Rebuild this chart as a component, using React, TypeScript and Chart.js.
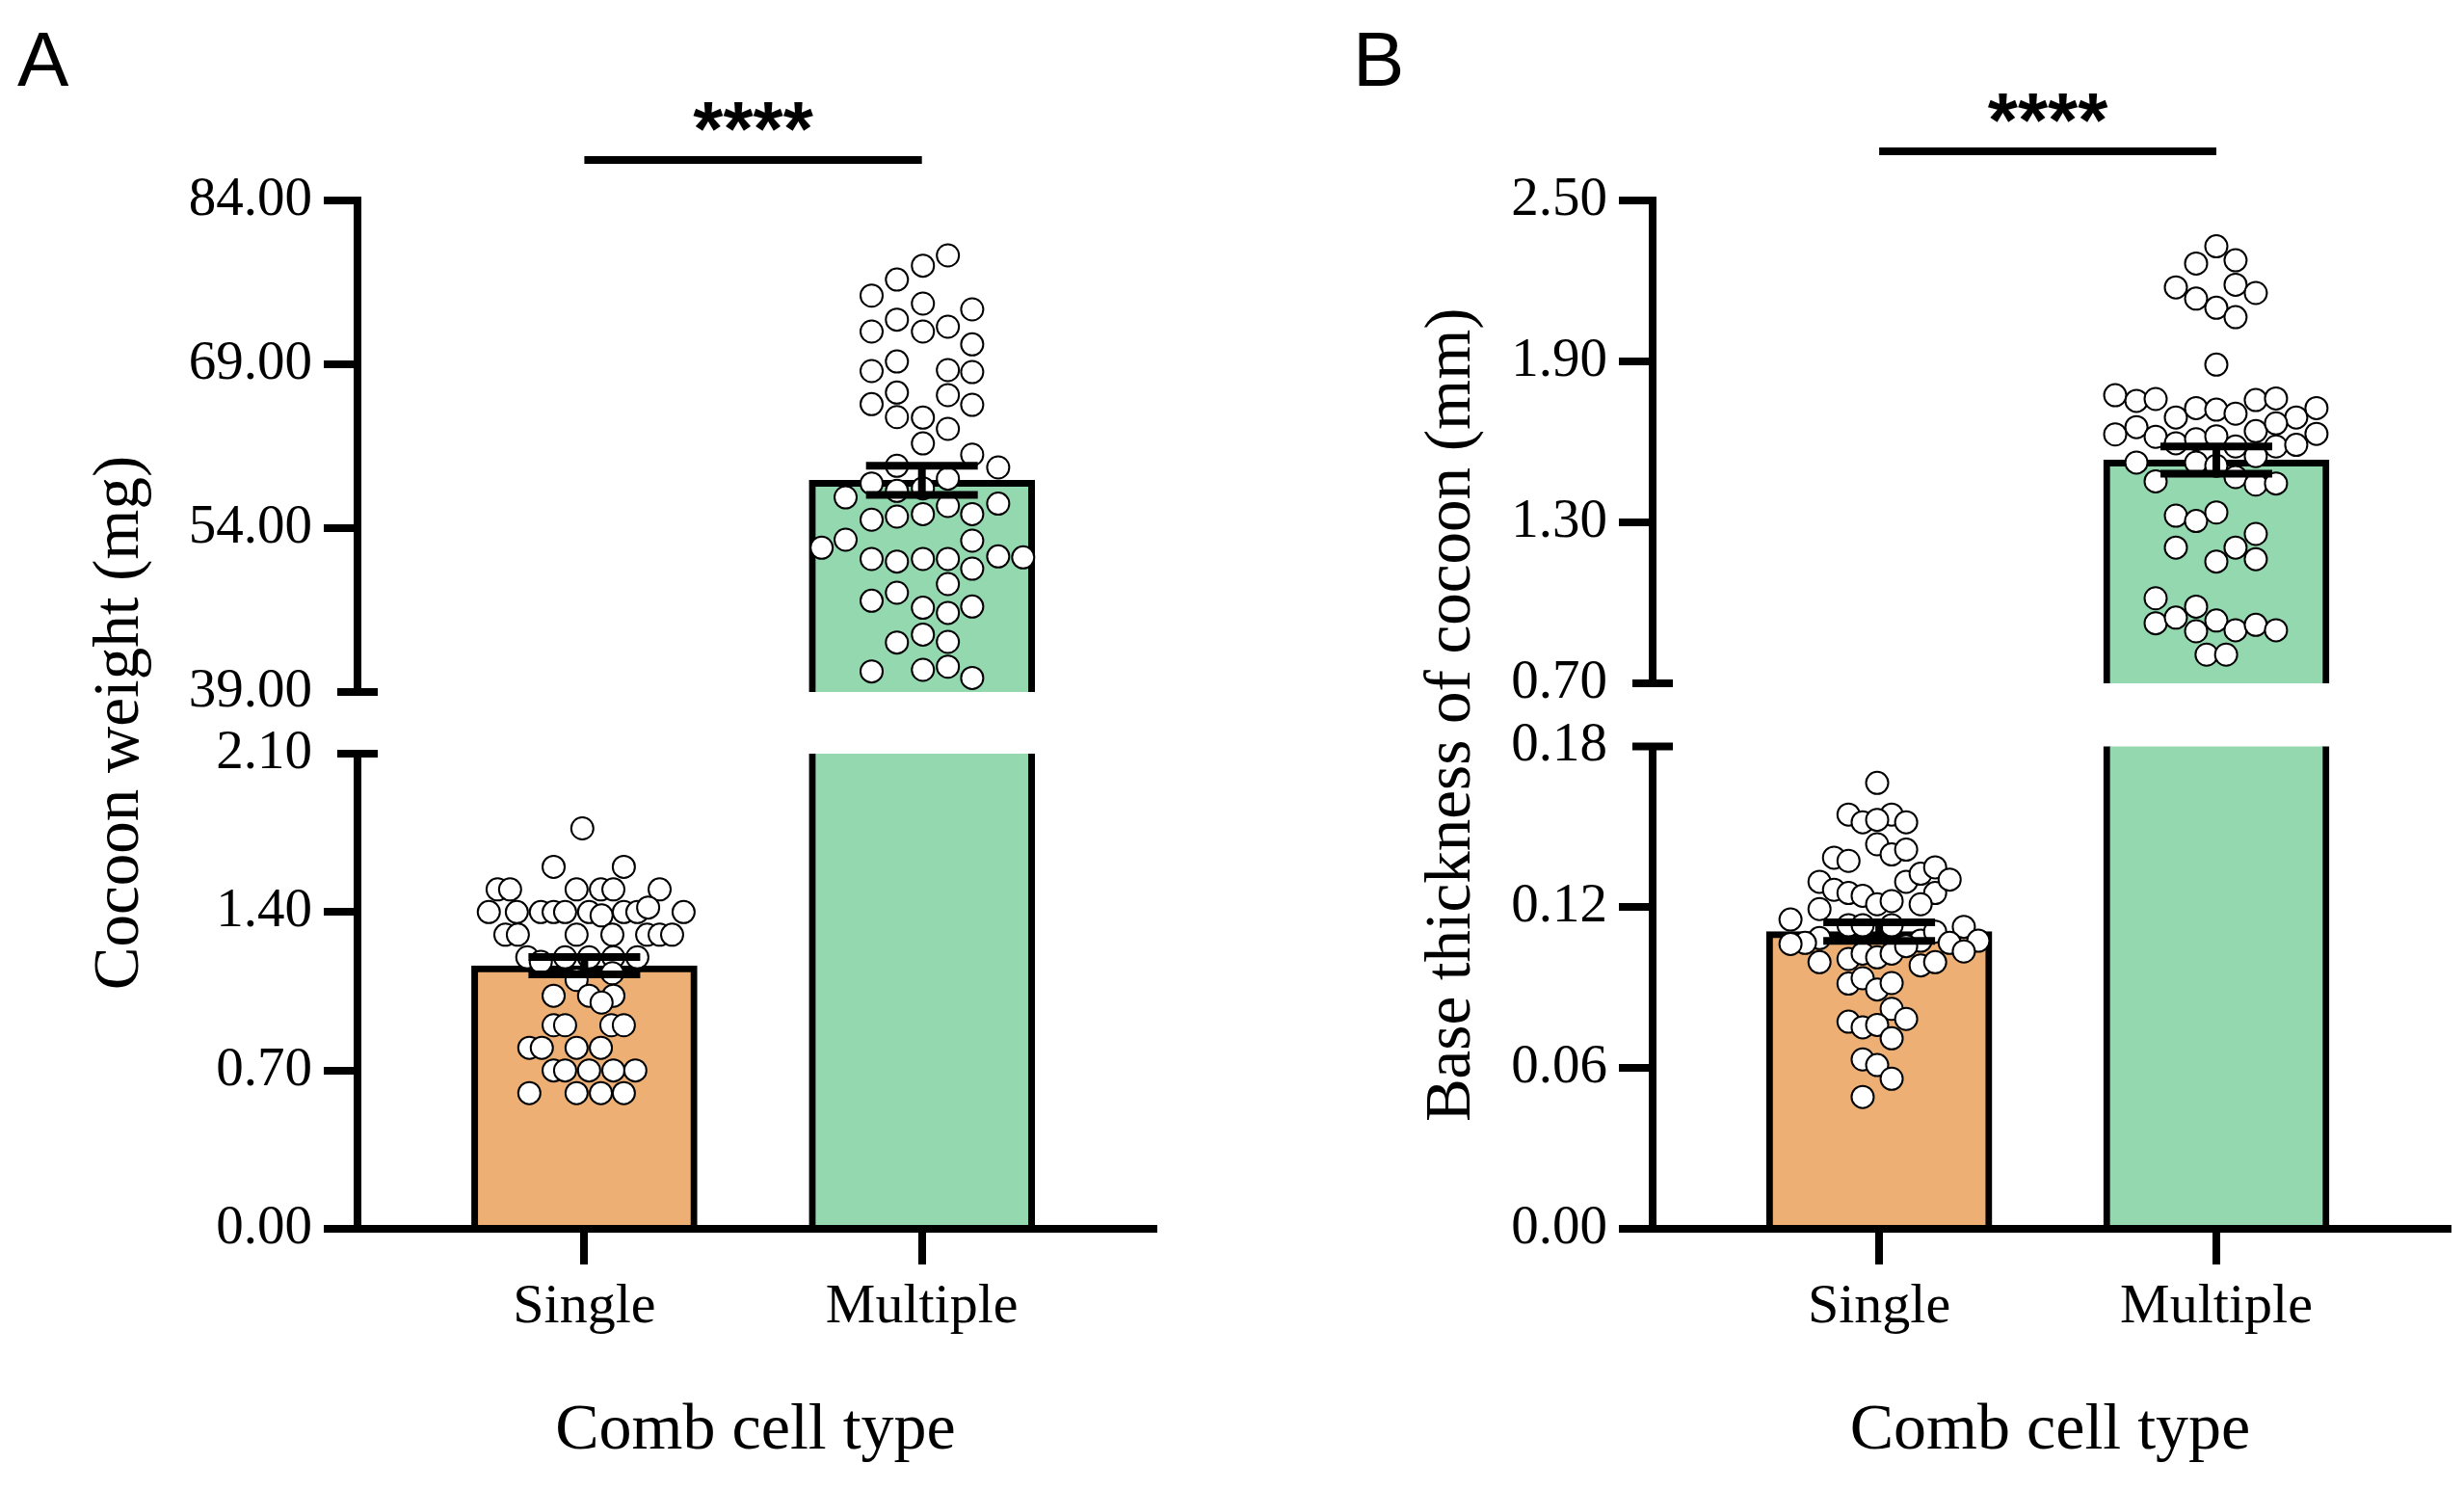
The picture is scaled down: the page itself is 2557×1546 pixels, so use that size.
import React, { useEffect, useRef } from 'react';
import { Chart, registerables } from 'chart.js';

Chart.register(...registerables);

const SERIF = '"Liberation Serif", "Times New Roman", serif';
const SANS = '"Liberation Sans", Arial, sans-serif';

// ---------------- DATA ----------------
const categories = ['Single', 'Multiple'];

// Panel A: cocoon weight (mg)
const weightMean = [1.163, 58.38];
const weightSem = [0.038, 1.33];
const weightLowTicks = [0, 0.7, 1.4, 2.1];
const weightHighTicks = [39, 54, 69, 84];
const weightSig = 87.7;

// [jitter (category units), value]
const weightSinglePts = [
  [-0.006, 1.77],
  [-0.091, 1.6], [0.117, 1.6],
  [-0.257, 1.5], [-0.22, 1.5], [-0.023, 1.5], [0.049, 1.5], [0.086, 1.5], [0.223, 1.5],
  [-0.283, 1.4], [-0.2, 1.4], [-0.129, 1.4], [-0.091, 1.4], [-0.057, 1.4], [0.014, 1.4], [0.051, 1.385], [0.117, 1.4], [0.157, 1.4], [0.189, 1.42], [0.294, 1.4],
  [-0.234, 1.3], [-0.197, 1.3], [-0.023, 1.3], [0.083, 1.3], [0.186, 1.3], [0.223, 1.3], [0.26, 1.3],
  [-0.169, 1.2], [-0.129, 1.18], [-0.057, 1.2], [0.014, 1.2], [0.086, 1.2], [0.157, 1.2],
  [-0.023, 1.1], [0.083, 1.13],
  [-0.091, 1.03], [0.014, 1.03], [0.086, 1.03], [0.051, 1.0],
  [-0.091, 0.9], [-0.057, 0.9], [0.08, 0.9], [0.117, 0.9],
  [-0.163, 0.8], [-0.126, 0.8], [-0.023, 0.8], [0.049, 0.8],
  [-0.091, 0.7], [-0.057, 0.7], [0.014, 0.7], [0.086, 0.7], [0.151, 0.7],
  [-0.163, 0.6], [-0.023, 0.6], [0.049, 0.6], [0.117, 0.6],
];

const weightMultiplePts = [
  [0.077, 78.97], [0.003, 78.03], [-0.074, 76.76], [-0.149, 75.29], [0.003, 74.56], [0.149, 74.03],
  [-0.074, 73.09], [-0.149, 72.0], [0.003, 72.0], [0.077, 72.44], [0.149, 70.82], [-0.074, 69.26],
  [-0.149, 68.38], [0.077, 68.47], [0.149, 68.29], [-0.074, 66.41], [-0.149, 65.35], [0.077, 66.18],
  [0.149, 65.29], [-0.074, 64.17], [0.003, 64.12], [0.077, 63.09], [0.003, 61.76], [0.149, 60.73],
  [0.226, 59.56], [-0.074, 59.71], [-0.149, 58.09], [0.077, 58.53], [0.003, 57.65], [-0.074, 57.41],
  [-0.226, 56.82], [0.226, 56.24], [0.077, 56.03], [-0.149, 54.77], [-0.074, 55.06], [0.003, 55.29],
  [0.149, 55.29], [-0.297, 52.21], [-0.226, 52.94], [0.149, 52.85], [-0.149, 51.18], [-0.074, 50.94],
  [0.003, 51.18], [0.077, 51.18], [0.226, 51.41], [0.3, 51.32], [0.149, 50.29], [0.077, 48.88],
  [-0.149, 47.35], [-0.074, 48.09], [0.003, 46.71], [0.077, 46.24], [0.149, 46.82], [-0.074, 43.53],
  [0.003, 44.26], [0.077, 43.59], [-0.149, 40.88], [0.003, 41.03], [0.077, 41.32], [0.149, 40.29],
];

// Panel B: base thickness of cocoon (mm)
const thickMean = [0.1109, 1.532];
const thickSem = [0.0035, 0.051];
const thickLowTicks = [0, 0.06, 0.12, 0.18];
const thickHighTicks = [0.7, 1.3, 1.9, 2.5];
const thickSig = 2.683;

const thickSinglePts = [
  [-0.006, 0.1664], [-0.091, 0.1546], [-0.049, 0.1517], [0.037, 0.1546], [-0.006, 0.1526], [0.08, 0.1517],
  [-0.006, 0.1435], [0.037, 0.1397], [0.08, 0.1415], [-0.134, 0.1385], [-0.091, 0.1373], [-0.177, 0.1295],
  [-0.134, 0.1265], [-0.091, 0.1253], [-0.049, 0.1243], [-0.006, 0.1211], [0.037, 0.1223], [0.08, 0.1295],
  [0.123, 0.1325], [0.166, 0.1349], [0.166, 0.1253], [0.209, 0.1303], [0.123, 0.1211], [-0.177, 0.1193],
  [-0.263, 0.1154], [-0.091, 0.1133], [-0.049, 0.1133], [0.037, 0.1133], [-0.177, 0.1085], [-0.22, 0.1067],
  [-0.263, 0.1063], [0.123, 0.1075], [0.166, 0.1109], [0.251, 0.1127], [0.209, 0.1067], [0.294, 0.1075],
  [0.251, 0.1035], [-0.177, 0.0995], [-0.091, 0.1007], [-0.049, 0.1027], [-0.006, 0.1013], [0.037, 0.1027],
  [0.08, 0.1055], [0.123, 0.0983], [0.166, 0.0995], [-0.091, 0.0915], [-0.049, 0.0935], [-0.006, 0.0893],
  [0.037, 0.0917], [0.037, 0.0821], [0.08, 0.0783], [-0.091, 0.0773], [-0.049, 0.0752], [-0.006, 0.0761],
  [0.037, 0.0711], [-0.049, 0.0632], [-0.006, 0.0611], [0.037, 0.056], [-0.049, 0.0492],
];

const thickMultiplePts = [
  [0, 2.329], [-0.06, 2.265], [0.057, 2.277], [-0.12, 2.176], [0.057, 2.186], [0.117, 2.155],
  [-0.06, 2.134], [0, 2.1], [0.057, 2.065], [0, 1.888],
  [-0.3, 1.774], [-0.237, 1.753], [-0.18, 1.76], [-0.12, 1.691], [-0.06, 1.726], [0, 1.72],
  [0.057, 1.705], [0.117, 1.756], [0.177, 1.762], [0.237, 1.691], [0.297, 1.726],
  [-0.3, 1.628], [-0.237, 1.655], [-0.18, 1.619], [-0.12, 1.595], [-0.06, 1.61], [0, 1.621],
  [0.057, 1.583], [0.117, 1.64], [0.177, 1.669], [0.177, 1.583], [0.237, 1.589], [0.297, 1.63],
  [-0.237, 1.523], [-0.06, 1.523], [0, 1.511], [0.117, 1.547],
  [-0.18, 1.453], [0.057, 1.469], [0.117, 1.441], [0.177, 1.445],
  [-0.12, 1.325], [-0.06, 1.305], [0, 1.337],
  [-0.12, 1.206], [0, 1.154], [0.057, 1.206], [0.117, 1.257], [0.117, 1.163],
  [-0.18, 1.017], [-0.18, 0.924], [-0.12, 0.945], [-0.06, 0.986], [-0.06, 0.894], [0, 0.934],
  [0.057, 0.898], [0.117, 0.918], [0.177, 0.898],
  [-0.029, 0.807], [0.029, 0.807],
];

// ---------------- STYLE ----------------
const barColors = ['#EDAF73', '#94D8B0'];

type Panel = {
  letter: string;
  yTitle: string;
  means: number[];
  sem: number[];
  lowTicks: number[];
  highTicks: number[];
  sig: number;
  singlePts: number[][];
  multiPts: number[][];
  width: number;
  axisW: number;
  padRight: number;
  wHigh: number;
  wGap: number;
  wLow: number;
  titlePad: number;
  letterX: number;
};

// chart area A: x 371..1197 ; chart area B (page): x 1715..2540
const panelA: Panel = {
  letter: 'A', yTitle: 'Cocoon weight (mg)', means: weightMean, sem: weightSem,
  lowTicks: weightLowTicks, highTicks: weightHighTicks, sig: weightSig,
  singlePts: weightSinglePts, multiPts: weightMultiplePts,
  width: 1297, axisW: 371, padRight: 100, wHigh: 510, wGap: 64, wLow: 493, titlePad: 85, letterX: 18,
};

const panelB: Panel = {
  letter: 'B', yTitle: 'Base thickness of cocoon (mm)', means: thickMean, sem: thickSem,
  lowTicks: thickLowTicks, highTicks: thickHighTicks, sig: thickSig,
  singlePts: thickSinglePts, multiPts: thickMultiplePts,
  width: 1390, axisW: 465, padRight: 100, wHigh: 501, wGap: 65.5, wLow: 500.5, titlePad: 217, letterX: 154,
};

const HEIGHT = 1546;

const annotatePlugin = {
  id: 'annotate',
  afterDraw(chart: any, _args: any, opts: any) {
    const { ctx } = chart;
    const xs = chart.scales.x;
    const yHigh = chart.scales.yHigh;
    const yLow = chart.scales.yLow;
    ctx.save();
    ctx.fillStyle = '#000';
    ctx.textBaseline = 'alphabetic';
    ctx.textAlign = 'left';
    ctx.font = `80px ${SANS}`;
    ctx.fillText(opts.letter, opts.letterX, 89);
    const x0 = xs.getPixelForValue(0);
    const x1 = xs.getPixelForValue(1);
    const ly = yHigh.getPixelForValue(opts.sig);
    ctx.font = `bold 80px ${SANS}`;
    ctx.textAlign = 'center';
    ctx.fillText('****', (x0 + x1) / 2, ly - 5);
    // axis break marks
    const ax = yLow.right;
    ctx.strokeStyle = '#000';
    ctx.lineWidth = 8;
    const marks = [yHigh.getPixelForValue(yHigh.min), yLow.getPixelForValue(yLow.max)];
    for (const p of marks) {
      ctx.beginPath();
      ctx.moveTo(ax - 21, p);
      ctx.lineTo(ax + 21, p);
      ctx.stroke();
    }
    ctx.restore();
  },
};

function yScale(p: Panel, ticks: number[], weight: number, stackWeight: number, breakVal: number) {
  return {
    type: 'linear',
    position: 'left',
    stack: 'y',
    stackWeight,
    weight,
    min: ticks[0],
    max: ticks[ticks.length - 1],
    afterBuildTicks: (s: any) => { s.ticks = ticks.map((v) => ({ value: v })); },
    afterFit: (s: any) => { s.width = p.axisW; },
    ticks: {
      autoSkip: false,
      padding: 12,
      color: '#000',
      font: { family: SERIF, size: 57 },
      callback: (v: any) => Number(v).toFixed(2),
    },
    grid: {
      display: true,
      drawOnChartArea: false,
      drawTicks: true,
      tickLength: 35,
      tickWidth: 8,
      lineWidth: 8,
      tickColor: (c: any) => (c.tick && Math.abs(c.tick.value - breakVal) < 1e-9 ? 'rgba(0,0,0,0)' : '#000'),
    },
    border: { display: true, width: 8, color: '#000' },
    title: { display: false },
  };
}

function makeConfig(p: Panel): any {
  const pts = (arr: number[][], cat: number) => arr.map(([j, v]) => ({ x: cat + j, y: v }));
  const m = p.means;
  const s = p.sem;
  const pointStyle = {
    pointRadius: 11.5,
    pointHoverRadius: 11.5,
    pointBorderWidth: 2,
    pointBackgroundColor: '#ffffff',
    pointBorderColor: '#000000',
  };
  const capStyle = {
    pointStyle: 'line',
    pointRadius: 58,
    pointHoverRadius: 58,
    pointBorderWidth: 8,
    pointBorderColor: '#000',
    pointBackgroundColor: '#000',
  };
  const stemStyle = { borderColor: '#000', borderWidth: 8, pointRadius: 0, pointHoverRadius: 0 };
  const bars = m.map((v, i) => ({ x: i, y: v }));
  return {
    type: 'bar',
    data: {
      datasets: [
        { type: 'line', yAxisID: 'yHigh', data: [{ x: 0, y: p.sig }, { x: 1, y: p.sig }], ...stemStyle, clip: false, order: 0 },
        { type: 'line', yAxisID: 'yLow', data: [{ x: 0, y: m[0] - s[0] }, { x: 0, y: m[0] + s[0] }], ...stemStyle, order: 1 },
        { type: 'scatter', yAxisID: 'yLow', data: [{ x: 0, y: m[0] + s[0] }, { x: 0, y: m[0] - s[0] }], ...capStyle, order: 1 },
        { type: 'line', yAxisID: 'yHigh', data: [{ x: 1, y: m[1] - s[1] }, { x: 1, y: m[1] + s[1] }], ...stemStyle, order: 1 },
        { type: 'scatter', yAxisID: 'yHigh', data: [{ x: 1, y: m[1] + s[1] }, { x: 1, y: m[1] - s[1] }], ...capStyle, order: 1 },
        { type: 'scatter', yAxisID: 'yLow', data: pts(p.singlePts, 0), ...pointStyle, order: 2 },
        { type: 'scatter', yAxisID: 'yHigh', data: pts(p.multiPts, 1), ...pointStyle, order: 2 },
        {
          type: 'bar', yAxisID: 'yHigh', data: bars, backgroundColor: barColors, borderColor: '#000',
          borderWidth: 7, barThickness: 234, grouped: false, clip: 0, order: 5,
        },
        {
          type: 'bar', yAxisID: 'yLow', data: bars, backgroundColor: barColors, borderColor: '#000',
          borderWidth: 7, barThickness: 234, grouped: false, clip: 0, order: 6,
        },
      ],
    },
    options: {
      animation: false,
      responsive: false,
      maintainAspectRatio: false,
      devicePixelRatio: 1,
      events: [],
      layout: { padding: { left: 0, right: p.padRight, top: 208, bottom: 0 } },
      plugins: {
        legend: { display: false },
        title: { display: false },
        tooltip: { enabled: false },
        annotate: { letter: p.letter, letterX: p.letterX, sig: p.sig },
      },
      scales: {
        x: {
          type: 'linear',
          position: 'bottom',
          offset: false,
          min: -0.672,
          max: 1.686,
          afterBuildTicks: (sc: any) => { sc.ticks = [0, 1].map((v) => ({ value: v })); },
          afterFit: (sc: any) => {
            sc.height = 271;
            sc.paddingLeft = 0;
            sc.paddingRight = 0;
          },
          ticks: {
            autoSkip: false,
            maxRotation: 0,
            padding: 10,
            color: '#000',
            font: { family: SERIF, size: 58 },
            callback: (v: any) => categories[v] ?? '',
          },
          grid: {
            display: true,
            offset: false,
            drawOnChartArea: false,
            drawTicks: true,
            tickLength: 37,
            tickWidth: 8,
            lineWidth: 8,
            tickColor: '#000',
          },
          border: { display: true, width: 8, color: '#000' },
          title: {
            display: true,
            text: 'Comb cell type',
            color: '#000',
            font: { family: SERIF, size: 68 },
            padding: { top: 0, bottom: 20 },
          },
        },
        yHigh: yScale(p, p.highTicks, 3, p.wHigh, p.highTicks[0]),
        yGap: {
          type: 'linear',
          position: 'left',
          stack: 'y',
          stackWeight: p.wGap,
          weight: 2,
          min: 0,
          max: 1,
          display: true,
          afterFit: (sc: any) => { sc.width = p.axisW; },
          ticks: { display: false },
          grid: { display: false },
          border: { display: false },
          title: {
            display: true,
            text: p.yTitle,
            color: '#000',
            font: { family: SERIF, size: 67 },
            padding: { top: p.titlePad, bottom: 0 },
          },
        },
        yLow: yScale(p, p.lowTicks, 1, p.wLow, p.lowTicks[p.lowTicks.length - 1]),
      },
    },
    plugins: [annotatePlugin],
  };
}

function PanelChart({ panel, left }: { panel: Panel; left: number }) {
  const ref = useRef<HTMLCanvasElement | null>(null);
  useEffect(() => {
    if (!ref.current) return;
    const chart = new Chart(ref.current, makeConfig(panel));
    return () => chart.destroy();
  }, [panel]);
  return (
    <canvas
      ref={ref}
      width={panel.width}
      height={HEIGHT}
      style={{ position: 'absolute', left, top: 0, width: panel.width, height: HEIGHT, display: 'block' }}
    />
  );
}

export default function App() {
  return (
    <div style={{ position: 'fixed', left: 0, top: 0, width: 2557, height: HEIGHT, background: '#ffffff', overflow: 'hidden' }}>
      <PanelChart panel={panelA} left={0} />
      <PanelChart panel={panelB} left={1250} />
    </div>
  );
}
